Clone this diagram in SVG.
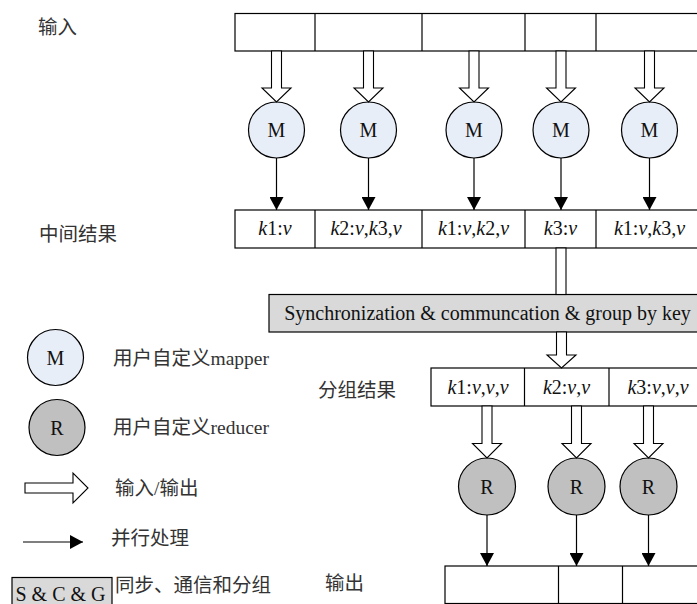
<svg xmlns="http://www.w3.org/2000/svg" width="697" height="604" viewBox="0 0 697 604">
<defs>
<style>
.bx{fill:#fff;stroke:#000;stroke-width:1.2}
.gb{fill:#d9d9d9;stroke:#000;stroke-width:1.2}
.mc{fill:#e8eef8;stroke:#000;stroke-width:1.2}
.rc{fill:#c0c0c0;stroke:#000;stroke-width:1.2}
.ha{fill:#fff;stroke:#000;stroke-width:1.1}
.ln{stroke:#000;stroke-width:1.2;fill:none}
.t{font-family:"Liberation Serif","Noto Sans CJK SC",serif;font-size:20px;fill:#111}
.c{font-family:"Liberation Serif","Noto Sans CJK SC",serif;font-size:19.5px;fill:#333}
.m{text-anchor:middle}
.i{font-style:italic}
</style>
<marker id="ah" markerWidth="13" markerHeight="14" refX="13" refY="7" orient="auto" markerUnits="userSpaceOnUse" viewBox="0 0 13 14">
<path d="M0,0 L13,7 L0,14 z" fill="#000"/>
</marker>
</defs>
<rect width="697" height="604" fill="#fff"/>

<g id="labels">
<text class="c" x="38" y="34">输入</text>
<text class="c" x="39" y="241">中间结果</text>
<text class="c" x="318" y="397">分组结果</text>
<text class="c" x="325" y="590">输出</text>
</g>

<g id="input-row">
<rect class="bx" x="235" y="13.5" width="470" height="37.5"/>
<line class="ln" x1="315" y1="13.5" x2="315" y2="51"/>
<line class="ln" x1="422" y1="13.5" x2="422" y2="51"/>
<line class="ln" x1="525" y1="13.5" x2="525" y2="51"/>
<line class="ln" x1="596" y1="13.5" x2="596" y2="51"/>
</g>

<g id="m1"><circle class="mc" cx="276.5" cy="130" r="28"/><text class="t m" x="276.5" y="137">M</text></g>
<g id="m2"><circle class="mc" cx="368.5" cy="130" r="28"/><text class="t m" x="368.5" y="137">M</text></g>
<g id="m3"><circle class="mc" cx="474" cy="130" r="28"/><text class="t m" x="474" y="137">M</text></g>
<g id="m4"><circle class="mc" cx="561" cy="130" r="28"/><text class="t m" x="561" y="137">M</text></g>
<g id="m5"><circle class="mc" cx="649.5" cy="130" r="28"/><text class="t m" x="649.5" y="137">M</text></g>

<g id="intermediate-row">
<rect class="bx" x="235" y="210" width="470" height="38"/>
<line class="ln" x1="315" y1="210" x2="315" y2="248"/>
<line class="ln" x1="422" y1="210" x2="422" y2="248"/>
<line class="ln" x1="525" y1="210" x2="525" y2="248"/>
<line class="ln" x1="596" y1="210" x2="596" y2="248"/>
<text class="t m" x="275" y="235"><tspan class="i">k</tspan>1:<tspan class="i">v</tspan></text>
<text class="t m" x="366" y="235"><tspan class="i">k</tspan>2:<tspan class="i">v</tspan>,<tspan class="i">k</tspan>3,<tspan class="i">v</tspan></text>
<text class="t m" x="473.5" y="235"><tspan class="i">k</tspan>1:<tspan class="i">v</tspan>,<tspan class="i">k</tspan>2,<tspan class="i">v</tspan></text>
<text class="t m" x="560.5" y="235"><tspan class="i">k</tspan>3:<tspan class="i">v</tspan></text>
<text class="t m" x="649.5" y="235"><tspan class="i">k</tspan>1:<tspan class="i">v</tspan>,<tspan class="i">k</tspan>3,<tspan class="i">v</tspan></text>
</g>

<g id="sync">
<rect class="gb" x="269" y="294.5" width="440" height="37.5"/>
<text class="t m" x="487.5" y="320">Synchronization &amp; communcation &amp; group by key</text>
</g>

<g id="grouped-row">
<rect class="bx" x="431" y="368" width="280" height="38"/>
<line class="ln" x1="524.5" y1="368" x2="524.5" y2="406"/>
<line class="ln" x1="609" y1="368" x2="609" y2="406"/>
<text class="t m" x="478" y="394"><tspan class="i">k</tspan>1:<tspan class="i">v</tspan>,<tspan class="i">v</tspan>,<tspan class="i">v</tspan></text>
<text class="t m" x="566.5" y="394"><tspan class="i">k</tspan>2:<tspan class="i">v</tspan>,<tspan class="i">v</tspan></text>
<text class="t m" x="658" y="394"><tspan class="i">k</tspan>3:<tspan class="i">v</tspan>,<tspan class="i">v</tspan>,<tspan class="i">v</tspan></text>
</g>

<g id="r1"><circle class="rc" cx="487" cy="486.5" r="28.5"/><text class="t m" x="487" y="493.5">R</text></g>
<g id="r2"><circle class="rc" cx="576.5" cy="486.5" r="28.5"/><text class="t m" x="576.5" y="493.5">R</text></g>
<g id="r3"><circle class="rc" cx="648.5" cy="486.5" r="28.5"/><text class="t m" x="648.5" y="493.5">R</text></g>

<g id="output-row">
<rect class="bx" x="445" y="566" width="260" height="37.5"/>
<line class="ln" x1="558.5" y1="566" x2="558.5" y2="603.5"/>
<line class="ln" x1="622.5" y1="566" x2="622.5" y2="603.5"/>
</g>

<g id="connectors">
<polygon class="ha" points="271.5,51 281.5,51 281.5,88 291,88 276.5,102 262,88 271.5,88"/>
<polygon class="ha" points="363.5,51 373.5,51 373.5,88 383,88 368.5,102 354,88 363.5,88"/>
<polygon class="ha" points="469,51 479,51 479,88 488.5,88 474,102 459.5,88 469,88"/>
<polygon class="ha" points="556,51 566,51 566,88 575.5,88 561,102 546.5,88 556,88"/>
<polygon class="ha" points="644.5,51 654.5,51 654.5,88 664,88 649.5,102 635,88 644.5,88"/>
<line class="ln" x1="276.5" y1="158" x2="276.5" y2="210" marker-end="url(#ah)"/>
<line class="ln" x1="368.5" y1="158" x2="368.5" y2="210" marker-end="url(#ah)"/>
<line class="ln" x1="474" y1="158" x2="474" y2="210" marker-end="url(#ah)"/>
<line class="ln" x1="561" y1="158" x2="561" y2="210" marker-end="url(#ah)"/>
<line class="ln" x1="649.5" y1="158" x2="649.5" y2="210" marker-end="url(#ah)"/>
<rect class="ha" x="556" y="248" width="10" height="46.5"/>
<polygon class="ha" points="556.5,332 566.5,332 566.5,355 576,355 561.5,368 547,355 556.5,355"/>
<polygon class="ha" points="482,406 492,406 492,443.5 501.5,443.5 487,458 472.5,443.5 482,443.5"/>
<polygon class="ha" points="571.5,406 581.5,406 581.5,443.5 591,443.5 576.5,458 562,443.5 571.5,443.5"/>
<polygon class="ha" points="643.5,406 653.5,406 653.5,443.5 663,443.5 648.5,458 634,443.5 643.5,443.5"/>
<line class="ln" x1="487" y1="515" x2="487" y2="566" marker-end="url(#ah)"/>
<line class="ln" x1="576.5" y1="515" x2="576.5" y2="566" marker-end="url(#ah)"/>
<line class="ln" x1="648.5" y1="515" x2="648.5" y2="566" marker-end="url(#ah)"/>
</g>

<g id="legend-mapper">
<circle class="mc" cx="55.5" cy="357.5" r="28"/>
<text class="t m" x="55.5" y="364.5">M</text>
<text class="c" x="113" y="365">用户自定义mapper</text>
</g>
<g id="legend-reducer">
<circle class="rc" cx="57" cy="427.5" r="28"/>
<text class="t m" x="57" y="434.5">R</text>
<text class="c" x="113" y="434">用户自定义reducer</text>
</g>
<g id="legend-io">
<polygon class="ha" points="25,483 73,483 73,473 88,488 73,503 73,493 25,493"/>
<text class="c" x="115" y="495">输入/输出</text>
</g>
<g id="legend-parallel">
<line class="ln" x1="23" y1="542" x2="83" y2="542" marker-end="url(#ah)"/>
<text class="c" x="111" y="545">并行处理</text>
</g>
<g id="legend-scg">
<rect class="gb" x="12" y="577.5" width="100" height="32"/>
<text class="t m" x="60.5" y="601">S &amp; C &amp; G</text>
<text class="c" x="115" y="592">同步、通信和分组</text>
</g>
</svg>
